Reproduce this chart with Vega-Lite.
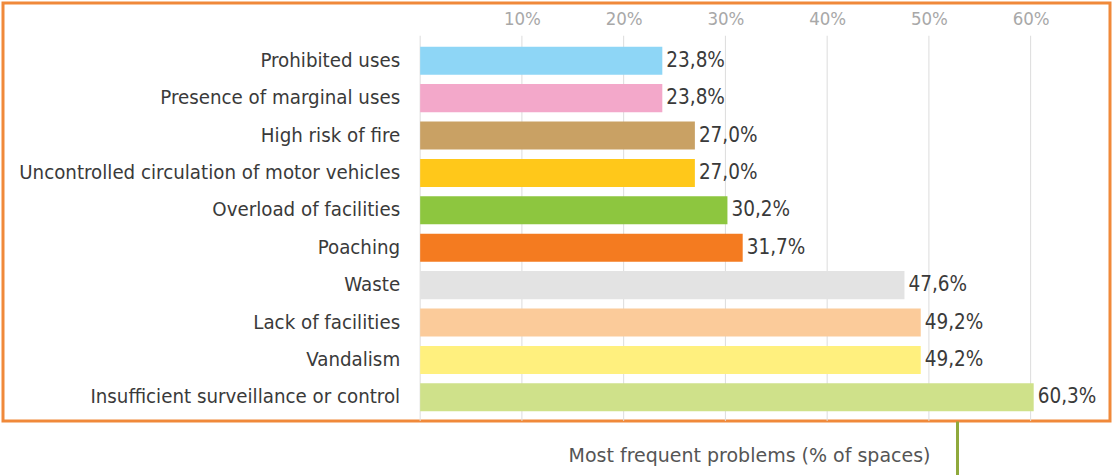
{
  "$schema": "https://vega.github.io/schema/vega-lite/v6.json",
  "width": 1107,
  "height": 418,
  "autosize": {"type": "none"},
  "padding": {"left": 3, "top": 3, "right": 4, "bottom": 54},
  "background": "white",
  "datasets": {
    "problems": [
      {"problem": "Prohibited uses", "share": 0.238},
      {"problem": "Presence of marginal uses", "share": 0.238},
      {"problem": "High risk of fire", "share": 0.270},
      {"problem": "Uncontrolled circulation of motor vehicles", "share": 0.270},
      {"problem": "Overload of facilities", "share": 0.302},
      {"problem": "Poaching", "share": 0.317},
      {"problem": "Waste", "share": 0.476},
      {"problem": "Lack of facilities", "share": 0.492},
      {"problem": "Vandalism", "share": 0.492},
      {"problem": "Insufficient surveillance or control", "share": 0.603}
    ],
    "ticks": [
      {"tick": 0}, {"tick": 0.1}, {"tick": 0.2}, {"tick": 0.3}, {"tick": 0.4}, {"tick": 0.5}, {"tick": 0.6}
    ]
  },
  "layer": [
    {
      "data": {"name": "ticks"},
      "mark": {"type": "rule", "color": "#dcdcdc", "strokeWidth": 1},
      "encoding": {
        "x": {"field": "tick", "type": "quantitative", "axis": null},
        "y": {"datum": 0, "type": "quantitative", "scale": {"domain": [0, 1.085], "nice": false, "zero": false}, "axis": null},
        "y2": {"datum": 1}
      }
    },
    {
      "data": {"name": "problems"},
      "layer": [
        {
          "mark": {"type": "bar"},
          "encoding": {
            "x": {
              "field": "share",
              "type": "quantitative",
              "scale": {"domain": [-0.41, 0.678], "nice": false, "zero": false},
              "axis": {
                "orient": "top",
                "values": [0.1, 0.2, 0.3, 0.4, 0.5, 0.6],
                "format": ".0%",
                "offset": -27,
                "grid": false,
                "domain": false,
                "ticks": false,
                "labelPadding": 2,
                "labelFont": "DejaVu Sans Condensed, DejaVu Sans",
                "labelFontSize": 18.5,
                "labelColor": "#a8a8a8",
                "title": null
              }
            },
            "y": {
              "field": "problem",
              "type": "nominal",
              "sort": null,
              "scale": {"range": [39, 413], "paddingInner": 0.25, "paddingOuter": 0.125},
              "axis": null
            },
            "color": {
              "field": "problem",
              "type": "nominal",
              "legend": null,
              "scale": {
                "domain": ["Prohibited uses", "Presence of marginal uses", "High risk of fire", "Uncontrolled circulation of motor vehicles", "Overload of facilities", "Poaching", "Waste", "Lack of facilities", "Vandalism", "Insufficient surveillance or control"],
                "range": ["#8ED6F6", "#F3A8CA", "#C9A164", "#FFC81A", "#8DC63F", "#F47B20", "#E3E3E3", "#FBCB9A", "#FFF07E", "#CFE18A"]
              }
            }
          }
        },
        {
          "mark": {"type": "text", "align": "left", "baseline": "middle", "dx": 4, "font": "DejaVu Sans Condensed, DejaVu Sans", "fontSize": 20.5, "color": "#3a3a3a"},
          "encoding": {
            "x": {"field": "share", "type": "quantitative", "axis": null},
            "y": {"field": "problem", "type": "nominal", "sort": null, "axis": null},
            "text": {"field": "share", "type": "quantitative", "format": ".1%"}
          }
        },
        {
          "mark": {"type": "text", "align": "right", "baseline": "middle", "dx": -20, "font": "DejaVu Sans Condensed, DejaVu Sans", "fontSize": 20.3, "color": "#3a3a3a"},
          "encoding": {
            "x": {"datum": 0, "type": "quantitative",
              "axis": {
                "orient": "bottom",
                "values": [0.528],
                "labels": false,
                "domain": false,
                "grid": false,
                "ticks": true,
                "tickColor": "#8FA93C",
                "tickWidth": 3,
                "tickSize": 54,
                "title": "Most frequent problems (% of spaces)",
                "titleFont": "DejaVu Sans",
                "titleFontSize": 19,
                "titleFontWeight": "normal",
                "titleColor": "#555555",
                "titleAlign": "right",
                "titleBaseline": "middle",
                "titleX": 927,
                "titleY": 34
              }
            },
            "y": {"field": "problem", "type": "nominal", "sort": null, "axis": null},
            "text": {"field": "problem"}
          }
        }
      ],
      "resolve": {"axis": {"x": "independent"}}
    }
  ],
  "resolve": {"axis": {"x": "independent", "y": "independent"}, "scale": {"y": "independent"}},
  "config": {
    "view": {"stroke": "#F0893A", "strokeWidth": 3},
    "locale": {
      "number": {"decimal": ",", "thousands": ".", "grouping": [3], "currency": ["", "\u00a0€"]}
    }
  }
}
